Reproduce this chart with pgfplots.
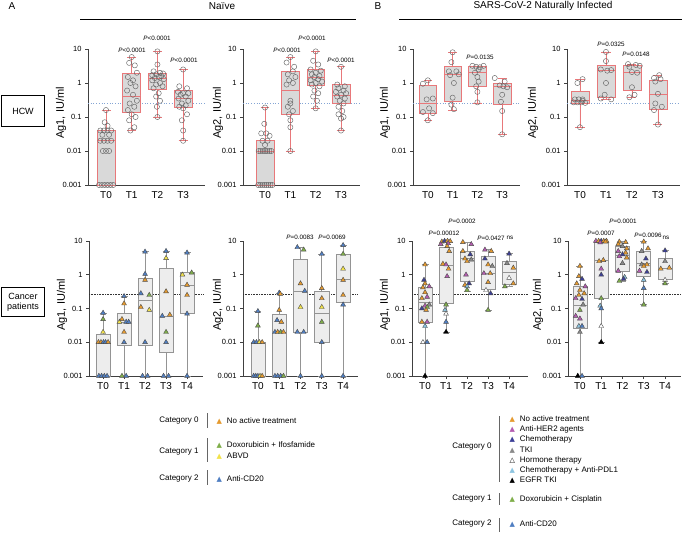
\documentclass[border=0pt]{standalone}
\usepackage{fontspec}
\setmainfont{Liberation Sans}
\newfontfamily\dejavu{DejaVu Sans}
\usepackage{pgfplots}
\pgfplotsset{compat=1.18}
\usepgfplotslibrary{statistics}
\definecolor{boxred}{HTML}{E8787A}
\definecolor{boxgray}{HTML}{D9D9D9}
\definecolor{cOr}{HTML}{E59A2F}
\definecolor{cGr}{HTML}{7FAE4A}
\definecolor{cYe}{HTML}{F2E24A}
\definecolor{cBl}{HTML}{4F7EC2}
\definecolor{cPu}{HTML}{B45BB0}
\definecolor{cDb}{HTML}{3C3F97}
\definecolor{cTk}{HTML}{8A8A8A}
\definecolor{cLb}{HTML}{8CC4E0}
\pgfplotsset{
 topbox/.style={draw=boxred, fill=boxgray, line width=0.6pt, solid,
  boxplot/draw direction=y, boxplot/box extend=0.7, boxplot/whisker extend=0.35},
 botbox/.style={draw=black!42, fill=black!7, line width=0.6pt, solid,
  boxplot/draw direction=y, boxplot/box extend=0.66, boxplot/whisker extend=0.33},
 circ/.style={only marks, mark=o, mark size=2.6pt, mark options={draw=black!60, line width=0.45pt}},
 tri/.style={scatter, only marks, scatter src=explicit symbolic, mark size=2.8pt,
  scatter/classes={
   o={mark=triangle*,draw=black!70,fill=cOr},
   g={mark=triangle*,draw=black!70,fill=cGr},
   yl={mark=triangle*,draw=black!70,fill=cYe},
   b={mark=triangle*,draw=black!70,fill=cBl},
   p={mark=triangle*,draw=black!70,fill=cPu},
   d={mark=triangle*,draw=black!70,fill=cDb},
   t={mark=triangle*,draw=black!70,fill=cTk},
   w={mark=triangle*,draw=black!70,fill=white},
   l={mark=triangle*,draw=black!70,fill=cLb},
   k={mark=triangle*,draw=black,fill=black}}},
 topline/.style={color=cBl!70, dotted, line width=0.7pt},
 botline/.style={color=black!80, densely dotted, line width=0.6pt},
}
\newcommand{\bx}[7]{\addplot[#1,boxplot prepared={draw position=#2,lower whisker=#3,lower quartile=#4,median=#5,upper quartile=#6,upper whisker=#7}] coordinates {};}
\newcommand{\pv}{\fontsize{6.3}{7}\selectfont}
\newcommand{\tg}[1]{{\dejavu\fontsize{7}{8}\selectfont\textcolor{#1}{▲}}\hspace{5pt}}
\begin{document}
\begin{tikzpicture}
\pgfplotsset{scale only axis, ymin=0.001, ymax=10,
  axis lines=left, axis line style={-, line width=0.9pt, black!75},
  ytick={0.001,0.01,0.1,1,10}, yticklabels={0.001,0.01,0.1,1,10},
  yminorticks=false, clip=false, tick align=outside,
  major tick length=3pt, tick style={line width=0.8pt, black!75},
  yticklabel style={font=\fontsize{7.5}{9}\selectfont},
  xticklabel style={font=\fontsize{10}{12}\selectfont}}
\useasboundingbox (0,0) rectangle (682pt,533pt);
% headers
\node[font=\fontsize{10}{12}\selectfont] at (12pt,527pt) {A};
\node[font=\fontsize{10}{12}\selectfont] at (222pt,527pt) {Naïve};
\draw[line width=0.8pt] (80pt,514pt) -- (356pt,514pt);
\node[font=\fontsize{10}{12}\selectfont] at (378pt,527pt) {B};
\node[font=\fontsize{10}{12}\selectfont] at (543pt,527pt) {SARS-CoV-2 Naturally Infected};
\draw[line width=0.8pt] (399pt,514pt) -- (682pt,514pt);
% row labels
\node[draw, line width=0.6pt, minimum width=43pt, minimum height=31pt, font=\fontsize{9}{11}\selectfont] at (23pt,422pt) {HCW};
\node[draw, line width=0.6pt, minimum width=43pt, minimum height=29pt, align=center, inner sep=1pt, font=\fontsize{9}{10}\selectfont] at (23pt,231pt) {Cancer\\patients};
% y labels
\foreach \xx/\yy/\tt in {61/420/Ag1, 218/420/Ag2, 385/420/Ag1, 533/420/Ag2, 62/228/Ag1, 218/228/Ag2, 385/228/Ag1, 538/228/Ag2}
  \node[rotate=90, font=\fontsize{11}{13}\selectfont] at (\xx pt,\yy pt) {\tt, IU/ml};
% p-values
\node[font=\pv] at (132pt,483pt) {\textit{P}<0.0001};
\node[font=\pv] at (157pt,495pt) {\textit{P}<0.0001};
\node[font=\pv] at (184pt,473pt) {\textit{P}<0.0001};
\node[font=\pv] at (287pt,483pt) {\textit{P}<0.0001};
\node[font=\pv] at (312pt,495pt) {\textit{P}<0.0001};
\node[font=\pv] at (341pt,473pt) {\textit{P}<0.0001};
\node[font=\pv] at (480pt,476pt) {\textit{P}=0.0135};
\node[font=\pv] at (611pt,489pt) {\textit{P}=0.0325};
\node[font=\pv] at (636pt,479pt) {\textit{P}=0.0148};
\node[font=\pv] at (300pt,296pt) {\textit{P}=0.0083};
\node[font=\pv] at (332pt,296pt) {\textit{P}=0.0069};
\node[font=\pv] at (462pt,312pt) {\textit{P}=0.0002};
\node[font=\pv] at (444pt,300pt) {\textit{P}=0.00012};
\node[font=\pv] at (491pt,295pt) {\textit{P}=0.0427};
\node[font=\pv] at (510pt,295pt) {ns};
\node[font=\pv] at (623pt,312pt) {\textit{P}=0.0001};
\node[font=\pv] at (601pt,300pt) {\textit{P}=0.0007};
\node[font=\pv] at (648pt,298pt) {\textit{P}=0.0096};
\node[font=\pv] at (666pt,295pt) {ns};

% ===== Panel 1: Naive Ag1 HCW
\begin{axis}[ymode=log, height=136pt, xtick={0,1,2,3}, xticklabels={T0,T1,T2,T3}, x tick style={draw=none}, at={(88pt,348pt)}, anchor=south west, width=117pt, xmin=-0.7, xmax=3.85]
\addplot[topline] coordinates {(-0.7,0.25) (3.85,0.25)};
\bx{topbox}{0}{0.001}{0.001}{0.02}{0.04}{0.16}
\bx{topbox}{1}{0.04}{0.14}{0.42}{1.97}{5.8}
\bx{topbox}{2}{0.1}{0.67}{1.4}{1.97}{8.5}
\bx{topbox}{3}{0.02}{0.19}{0.35}{0.61}{2.5}
\addplot[circ] coordinates {(0,0.16) (-0.05,0.07) (0.06,0.055) (-0.22,0.04) (-0.08,0.04) (0.06,0.04) (0.2,0.04) (-0.14,0.03) (0.12,0.03) (-0.22,0.02) (-0.08,0.02) (0.06,0.02) (0.2,0.02) (-0.12,0.01) (0,0.01) (0.12,0.01) (-0.27,0.001) (-0.16,0.001) (-0.05,0.001) (0.06,0.001) (0.17,0.001) (0.28,0.001)
(1,5.8) (0.9,3.9) (1.12,3.3) (1.2,2.0) (0.85,1.5) (1.05,1.2) (0.95,1.0) (1.15,0.8) (0.82,0.6) (1.05,0.45) (1.2,0.3) (0.92,0.25) (1.1,0.2) (0.85,0.16) (1.0,0.12) (1.15,0.1) (0.9,0.08) (1.1,0.05) (0.95,0.04)
(2,8.5) (2.0,3.5) (1.85,2.2) (2.1,2.0) (2.22,1.9) (1.95,1.8) (1.8,1.7) (2.15,1.6) (2.05,1.5) (1.9,1.4) (2.25,1.3) (1.8,1.2) (2.1,1.0) (1.95,0.9) (2.2,0.8) (1.85,0.7) (2.05,0.5) (1.95,0.4) (2.1,0.3) (1.98,0.2) (2,0.1)
(3,2.5) (2.85,0.8) (3.15,0.7) (2.8,0.55) (3.0,0.5) (3.2,0.5) (2.9,0.45) (3.1,0.4) (2.82,0.35) (3.2,0.3) (2.95,0.25) (3.1,0.22) (2.85,0.2) (3.0,0.18) (3.15,0.12) (2.95,0.08) (3.0,0.04) (3,0.02)};
\end{axis}

% ===== Panel 2: Naive Ag2 HCW
\begin{axis}[ymode=log, height=136pt, xtick={0,1,2,3}, xticklabels={T0,T1,T2,T3}, x tick style={draw=none}, at={(243pt,348pt)}, anchor=south west, width=117pt, xmin=-0.87, xmax=3.75]
\addplot[topline] coordinates {(-0.87,0.25) (3.75,0.25)};
\bx{topbox}{0}{0.001}{0.001}{0.01}{0.02}{0.19}
\bx{topbox}{1}{0.01}{0.12}{0.63}{2.27}{5.8}
\bx{topbox}{2}{0.18}{0.85}{1.44}{2.5}{8.5}
\bx{topbox}{3}{0.04}{0.26}{0.43}{0.91}{3.0}
\addplot[circ] coordinates {(0,0.19) (-0.03,0.063) (-0.15,0.033) (0.05,0.033) (0.18,0.028) (-0.1,0.02) (0.1,0.02) (0,0.015) (-0.25,0.01) (-0.17,0.01) (-0.08,0.01) (0,0.01) (0.08,0.01) (0.17,0.01) (0.25,0.01) (-0.27,0.001) (-0.19,0.001) (-0.11,0.001) (-0.03,0.001) (0.05,0.001) (0.13,0.001) (0.21,0.001) (0.29,0.001)
(1,5.8) (0.85,4.0) (1.15,3.0) (1.1,2.2) (0.9,1.8) (1.2,1.5) (0.95,1.2) (1.1,1.0) (0.85,0.9) (1.0,0.3) (1.0,0.25) (0.9,0.2) (1.1,0.15) (0.95,0.12) (1.0,0.08) (1.0,0.05) (1,0.01)
(2,8.5) (1.9,4.5) (2.1,3.5) (1.8,2.5) (2.2,2.3) (2.0,2.0) (1.85,1.8) (2.15,1.6) (1.95,1.5) (2.1,1.3) (1.8,1.2) (2.25,1.1) (2.0,1.0) (1.85,0.9) (2.15,0.8) (1.95,0.6) (2.1,0.5) (1.9,0.4) (2.05,0.3) (2,0.18)
(3,3.0) (2.85,0.9) (3.15,0.8) (2.9,0.7) (3.1,0.6) (2.8,0.55) (3.2,0.5) (3.0,0.45) (2.85,0.4) (3.15,0.35) (2.95,0.3) (3.1,0.25) (2.9,0.2) (3.05,0.15) (2.9,0.12) (3.1,0.1) (3.0,0.09) (3,0.04)};
\end{axis}

% ===== Panel 3: Infected Ag1 HCW
\begin{axis}[ymode=log, height=136pt, xtick={0,1,2,3}, xticklabels={T0,T1,T2,T3}, x tick style={draw=none}, at={(413pt,348pt)}, anchor=south west, width=107pt, xmin=-0.6, xmax=3.72]
\addplot[topline] coordinates {(-0.6,0.25) (3.72,0.25)};
\bx{topbox}{0}{0.08}{0.13}{0.26}{0.83}{1.2}
\bx{topbox}{1}{0.16}{0.28}{1.8}{3.0}{8.0}
\bx{topbox}{2}{0.26}{0.8}{2.0}{3.0}{3.2}
\bx{topbox}{3}{0.031}{0.23}{0.8}{0.95}{1.4}
\addplot[circ] coordinates {(0,1.2) (-0.2,0.95) (0.2,0.35) (-0.05,0.33) (0.05,0.18) (-0.2,0.14) (0.2,0.13) (0,0.08)
(1,8) (0.95,4.1) (0.85,2.2) (1.15,2.2) (1.25,1.8) (0.9,1.7) (1.05,1.0) (1.0,0.37) (0.95,0.23) (1.05,0.17)
(1.8,3.2) (2.25,3.2) (1.95,3.0) (2.1,2.9) (2.05,2.5) (1.9,2.0) (2.0,1.5) (2.05,1.1) (1.95,0.8) (2.0,0.55) (2,0.27)
(2.7,1.4) (3.1,1.1) (2.9,0.85) (3.05,0.8) (3.2,0.75) (3.0,0.45) (2.95,0.28) (3.0,0.15) (3,0.031)};
\end{axis}

% ===== Panel 4: Infected Ag2 HCW
\begin{axis}[ymode=log, height=136pt, xtick={0,1,2,3}, xticklabels={T0,T1,T2,T3}, x tick style={draw=none}, at={(567pt,348pt)}, anchor=south west, width=113pt, xmin=-0.5, xmax=3.85]
\addplot[topline] coordinates {(-0.5,0.25) (3.85,0.25)};
\bx{topbox}{0}{0.05}{0.26}{0.3}{0.57}{1.3}
\bx{topbox}{1}{0.33}{0.37}{2.3}{3.3}{8.2}
\bx{topbox}{2}{0.38}{0.6}{2.1}{3.3}{3.6}
\bx{topbox}{3}{0.06}{0.17}{0.48}{1.2}{1.7}
\addplot[circ] coordinates {(-0.1,1.0) (0.1,1.3) (-0.2,0.33) (-0.05,0.33) (0.1,0.33) (-0.25,0.27) (-0.1,0.27) (0.05,0.27) (0.2,0.26) (0.1,0.3) (0,0.05)
(1,8.2) (1,4.4) (0.8,2.5) (1.2,2.4) (1.05,2.3) (1.0,1.0) (0.95,0.45) (0.8,0.35) (1.2,0.33)
(1.85,3.6) (2.15,3.4) (2.3,3.2) (1.9,3.0) (2.0,2.1) (2.2,2.0) (2.0,0.75) (1.9,0.38) (2.1,0.45)
(3.05,1.7) (2.85,1.4) (3.1,1.3) (2.9,1.1) (3.0,0.48) (2.9,0.25) (3.15,0.2) (2.85,0.16) (3,0.06)};
\end{axis}

% ===== Panel 5: Naive Ag1 cancer
\begin{axis}[ymode=log, height=135pt, xtick={0,1,2,3,4}, xticklabels={T0,T1,T2,T3,T4}, x tick style={line width=0.6pt, black!75}, at={(89pt,157pt)}, anchor=south west, width=114pt, xmin=-0.67, xmax=4.76]
\addplot[botline] coordinates {(-0.67,0.26) (4.76,0.26)};
\bx{botbox}{0}{0.001}{0.001}{0.01}{0.017}{0.074}
\bx{botbox}{1}{0.001}{0.008}{0.04}{0.07}{0.23}
\bx{botbox}{2}{0.001}{0.008}{0.18}{0.8}{4.8}
\bx{botbox}{3}{0.001}{0.005}{0.06}{1.6}{5.0}
\bx{botbox}{4}{0.001}{0.07}{0.5}{1.15}{4.5}
\addplot[tri] coordinates {(0,0.074) [b] (0,0.048) [g] (0,0.02) [yl] (-0.22,0.01) [o] (-0.1,0.01) [o] (0.02,0.01) [b] (0.12,0.01) [b] (0.24,0.01) [o] (-0.2,0.001) [b] (-0.07,0.001) [b] (0.06,0.001) [b] (0.19,0.001) [b]
(1,0.23) [b] (1,0.14) [o] (0.78,0.04) [yl] (0.9,0.048) [o] (1.1,0.04) [b] (1.22,0.04) [b] (1,0.02) [o] (1,0.01) [b] (0.9,0.001) [g] (1.1,0.001) [b]
(2,4.8) [b] (2,1.05) [b] (2,0.7) [o] (1.8,0.28) [b] (2.2,0.25) [g] (1.8,0.11) [o] (2.2,0.09) [yl] (2,0.01) [b] (1.88,0.001) [b] (2.12,0.001) [b]
(3,5) [b] (3,3.1) [yl] (3,0.32) [o] (2.82,0.06) [b] (3.18,0.065) [o] (3,0.02) [g] (3,0.01) [b] (2.88,0.001) [b] (3.12,0.001) [b]
(4,4.5) [b] (4.22,1.15) [g] (3.78,1.0) [yl] (4,0.5) [o] (4,0.25) [o] (4,0.07) [b] (4,0.001) [b]};
\end{axis}

% ===== Panel 6: Naive Ag2 cancer
\begin{axis}[ymode=log, height=135pt, xtick={0,1,2,3,4}, xticklabels={T0,T1,T2,T3,T4}, x tick style={line width=0.6pt, black!75}, at={(243pt,157pt)}, anchor=south west, width=115pt, xmin=-0.7, xmax=4.7]
\addplot[botline] coordinates {(-0.7,0.26) (4.7,0.26)};
\bx{botbox}{0}{0.001}{0.001}{0.01}{0.01}{0.083}
\bx{botbox}{1}{0.001}{0.001}{0.02}{0.066}{0.29}
\bx{botbox}{2}{0.001}{0.02}{0.32}{2.85}{6.5}
\bx{botbox}{3}{0.001}{0.01}{0.074}{0.33}{4.1}
\bx{botbox}{4}{0.001}{0.15}{0.72}{4.1}{7.5}
\addplot[tri] coordinates {(0,0.083) [b] (0,0.031) [g] (-0.2,0.01) [b] (-0.07,0.01) [b] (0.07,0.01) [yl] (0.2,0.01) [o] (-0.2,0.001) [b] (-0.1,0.001) [b] (0,0.001) [b] (0.1,0.001) [yl] (0.2,0.001) [o]
(1,0.29) [b] (1.05,0.27) [o] (1,0.09) [o] (0.9,0.045) [b] (1.1,0.04) [o] (0.8,0.02) [b] (0.93,0.02) [o] (1.07,0.02) [g] (1.2,0.02) [o] (0.8,0.001) [b] (0.93,0.001) [b] (1.07,0.001) [b] (1.2,0.001) [g]
(1.85,6.5) [b] (2.15,5.5) [g] (2,0.55) [o] (2.2,0.33) [b] (2,0.11) [yl] (1.85,0.02) [b] (2.15,0.02) [b] (2,0.001) [b]
(3,4.1) [b] (3,0.4) [o] (3,0.2) [o] (3,0.11) [yl] (3,0.04) [g] (3,0.01) [b] (3,0.001) [b]
(4,7.5) [b] (4,4.1) [g] (4,1.5) [yl] (4,0.7) [o] (4,0.25) [o] (4,0.13) [b] (4,0.001) [b]};
\end{axis}

% ===== Panel 7: Infected Ag1 cancer
\begin{axis}[ymode=log, height=135pt, xtick={0,1,2,3,4}, xticklabels={T0,T1,T2,T3,T4}, x tick style={line width=0.6pt, black!75}, at={(412pt,157pt)}, anchor=south west, width=116pt, xmin=-0.62, xmax=4.9]
\addplot[botline] coordinates {(-0.62,0.26) (4.9,0.26)};
\bx{botbox}{0}{0.001}{0.04}{0.15}{0.43}{2.0}
\bx{botbox}{1}{0.02}{0.14}{1.9}{6.6}{10}
\bx{botbox}{2}{0.33}{0.65}{3.0}{5.0}{9.0}
\bx{botbox}{3}{0.09}{0.36}{1.1}{3.6}{5.5}
\bx{botbox}{4}{0.45}{0.51}{1.2}{2.5}{4.2}
\addplot[tri] coordinates {(0,2.0) [o] (-0.05,0.7) [d] (0,0.55) [o] (-0.1,0.42) [o] (0.2,0.45) [p] (0,0.3) [o] (0.1,0.22) [p] (-0.15,0.2) [o] (0.2,0.13) [t] (0,0.12) [p] (-0.15,0.1) [d] (0.1,0.11) [g] (0.05,0.09) [o] (-0.15,0.04) [o] (0.1,0.04) [p] (0,0.03) [l] (-0.1,0.01) [w] (0.1,0.01) [b] (0,0.001) [k]
(0.8,9.5) [o] (0.93,10) [d] (1.07,10) [o] (1.2,9.8) [o] (0.75,8) [p] (1.1,8.5) [p] (1.05,7) [o] (1.15,5) [o] (0.85,2.1) [o] (1,2.0) [p] (1.12,1.5) [o] (1.05,0.9) [p] (1,0.13) [g] (0.95,0.09) [l] (1,0.07) [w] (1,0.04) [b] (1,0.02) [k]
(1.8,9.2) [o] (2.2,8) [p] (1.8,5) [o] (2.15,4) [d] (1.9,3) [o] (2.2,2.8) [t] (2,2.5) [o] (1.95,1.0) [p] (2.1,0.55) [d] (1.9,0.5) [o] (2,0.45) [l] (2,0.35) [g]
(2.85,5.5) [p] (3.15,5.0) [o] (2.85,3) [d] (3,2) [o] (3.2,1.8) [t] (2.8,1.1) [p] (3.1,1.1) [o] (3,0.6) [o] (2.9,0.35) [w] (3.12,0.28) [d] (3,0.09) [g]
(4,4.2) [d] (3.9,2.2) [t] (4.2,1.6) [o] (4,0.8) [w] (4.2,0.55) [o] (3.8,0.45) [g]};
\end{axis}

% ===== Panel 8: Infected Ag2 cancer
\begin{axis}[ymode=log, height=135pt, xtick={0,1,2,3,4}, xticklabels={T0,T1,T2,T3,T4}, x tick style={line width=0.6pt, black!75}, at={(568pt,157pt)}, anchor=south west, width=113pt, xmin=-0.56, xmax=4.75]
\addplot[botline] coordinates {(-0.56,0.26) (4.75,0.26)};
\bx{botbox}{0}{0.001}{0.026}{0.125}{0.44}{1.8}
\bx{botbox}{1}{0.01}{0.2}{2.6}{9.0}{10}
\bx{botbox}{2}{0.65}{1.3}{3.8}{6.8}{9.5}
\bx{botbox}{3}{0.13}{0.87}{2.2}{4.8}{9.5}
\bx{botbox}{4}{0.55}{0.72}{1.55}{3.1}{5.2}
\addplot[tri] coordinates {(0,1.8) [o] (-0.05,0.9) [o] (0.1,0.75) [d] (-0.15,0.55) [o] (0.25,0.45) [p] (0,0.35) [o] (0.2,0.28) [o] (-0.05,0.25) [o] (-0.2,0.2) [p] (0.1,0.19) [d] (0.15,0.13) [t] (0,0.09) [g] (-0.2,0.06) [p] (0,0.05) [p] (-0.05,0.03) [l] (0.1,0.03) [b] (0,0.02) [t] (-0.1,0.001) [k] (0.1,0.001) [b]
(0.75,10) [p] (0.88,10) [o] (1,10) [d] (1.12,10) [o] (1.25,10) [o] (0.95,9) [p] (1.2,9.5) [o] (1.1,2.7) [o] (0.9,2.5) [o] (1,1.5) [p] (1,1.0) [d] (1,0.2) [g] (0.95,0.12) [l] (1,0.1) [b] (1,0.03) [w] (1,0.01) [k]
(1.85,9.5) [o] (2.15,9.2) [o] (1.8,8) [o] (2,7) [t] (2.2,6) [o] (1.8,5) [p] (2.15,4.5) [o] (2,4) [d] (1.85,3.5) [p] (2.2,3.2) [o] (2,2.2) [t] (1.8,1.3) [p] (2.1,0.85) [l] (2.05,0.75) [d] (1.85,0.65) [g]
(3,9.5) [o] (3.2,6) [o] (2.9,5) [t] (3.1,3) [d] (2.9,2.0) [t] (3.15,2) [o] (3,1.8) [o] (2.8,1.3) [p] (3.15,1.2) [d] (3,0.7) [l] (3,0.4) [b] (3,0.13) [g]
(4,5.2) [d] (4,2.5) [t] (4.2,1.6) [o] (3.8,1.5) [o] (4,0.7) [w] (4,0.55) [g]};
\end{axis}

% ===== legends
\begin{scope}[font=\fontsize{8}{10}\selectfont]
\node[anchor=east] at (202pt,112pt) {Category 0};
\draw[black!60, line width=0.6pt] (207pt,120pt) -- (207pt,105pt);
\node[anchor=west] at (213pt,112pt) {\tg{cOr}No active treatment};
\node[anchor=east] at (202pt,81pt) {Category 1};
\draw[black!60, line width=0.6pt] (207pt,95pt) -- (207pt,71pt);
\node[anchor=west] at (213pt,88pt) {\tg{cGr}Doxorubicin + Ifosfamide};
\node[anchor=west] at (213pt,77pt) {\tg{cYe}ABVD};
\node[anchor=east] at (202pt,54pt) {Category 2};
\draw[black!60, line width=0.6pt] (207pt,63pt) -- (207pt,48pt);
\node[anchor=west] at (213pt,54pt) {\tg{cBl}Anti-CD20};

\node[anchor=east] at (495pt,86pt) {Category 0};
\draw[black!60, line width=0.6pt] (499pt,117pt) -- (499pt,51pt);
\foreach \yy/\cc/\tt in {114/cOr/No active treatment, 104/cPu/Anti-HER2 agents, 94/cDb/Chemotherapy, 83/cTk/TKI, 63/cLb/Chemotherapy + Anti-PDL1, 53/black/EGFR TKI}
  \node[anchor=west] at (506pt,\yy pt) {\tg{\cc}\tt};
\node[anchor=west] at (506pt,73pt) {{\dejavu\fontsize{7}{8}\selectfont △}\hspace{5pt}Hormone therapy};
\node[anchor=east] at (495pt,34pt) {Category 1};
\draw[black!60, line width=0.6pt] (499pt,40pt) -- (499pt,28pt);
\node[anchor=west] at (506pt,34pt) {\tg{cGr}Doxorubicin + Cisplatin};
\node[anchor=east] at (495pt,9pt) {Category 2};
\draw[black!60, line width=0.6pt] (499pt,15pt) -- (499pt,1pt);
\node[anchor=west] at (506pt,9pt) {\tg{cBl}Anti-CD20};
\end{scope}
\end{tikzpicture}
\end{document}
